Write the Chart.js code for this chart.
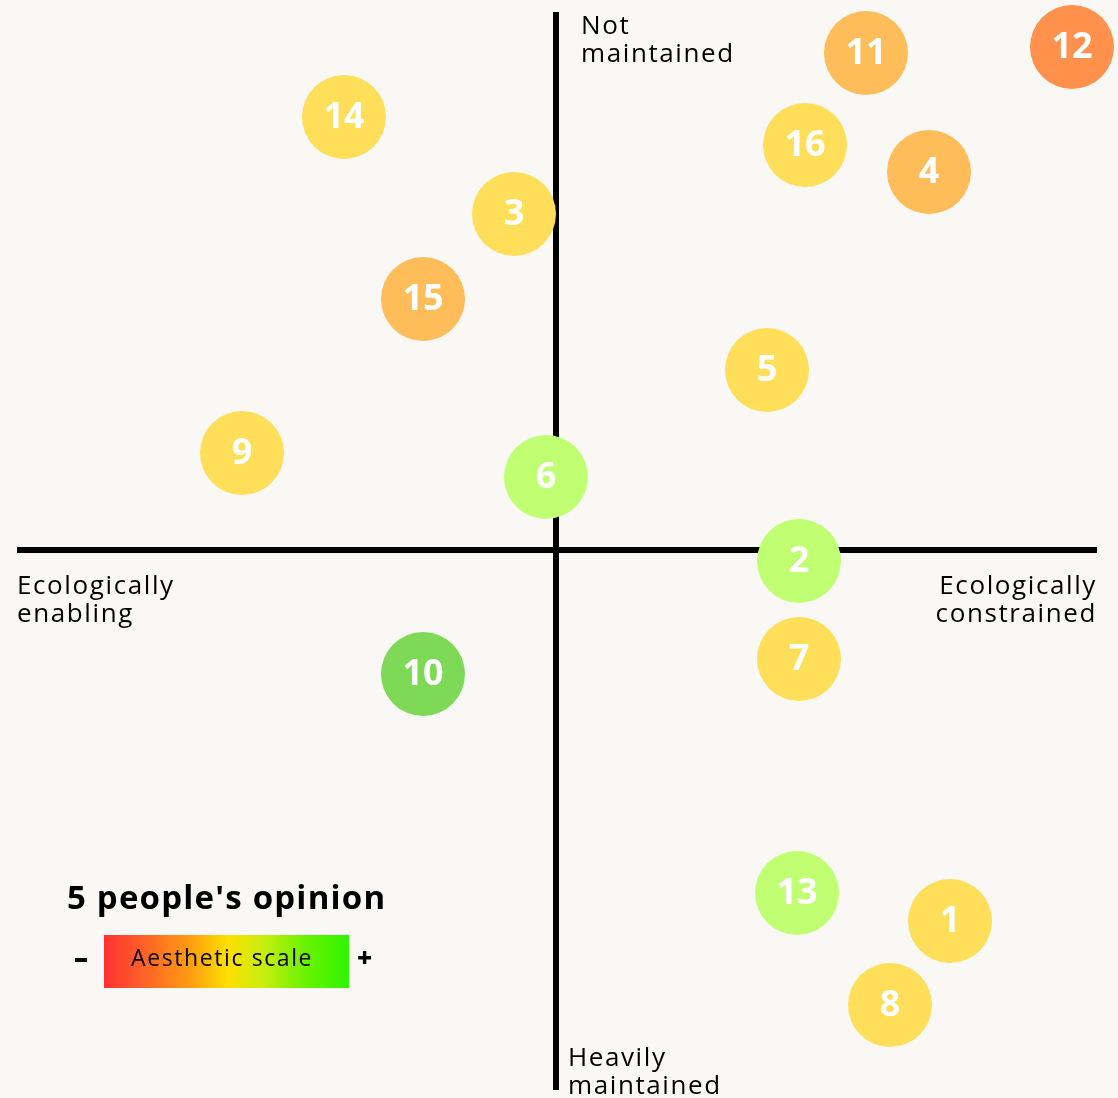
<!DOCTYPE html>
<html>
<head>
<meta charset="utf-8">
<script src="https://cdn.jsdelivr.net/npm/chart.js@4/dist/chart.umd.min.js"></script>
<style>
  html, body { margin: 0; padding: 0; background: #f9f8f4; }
  #wrap { position: relative; width: 1118px; height: 1098px; overflow: hidden; font-family: "Open Sans", sans-serif; }
  canvas { position: absolute; left: 0; top: 0; }
  .lbl { position: absolute; font-size: 26px; line-height: 28px; letter-spacing: 1.6px; color: #000; white-space: nowrap; }
  #title { position: absolute; left: 67px; top: 874px; font-size: 33px; letter-spacing: 1.2px; font-weight: 700; color: #000; white-space: nowrap; }
  #scale { position: absolute; left: 104px; top: 935px; width: 245px; height: 53px;
    background: linear-gradient(to right, #ff3131 0%, #ff5e2a 15%, #ff9c10 35%, #ffde00 50%, #c8ee10 65%, #6af200 82%, #2ef500 100%);
    font-size: 23px; letter-spacing: 1.6px; line-height: 45px; text-indent: 27px; color: #000; white-space: nowrap; }
  .sign { position: absolute; font-size: 26px; font-weight: 800; color: #000; }
  #minus { position: absolute; left: 75px; top: 958px; width: 12px; height: 4px; background: #000; }
</style>
</head>
<body>
<div id="wrap">
  <canvas id="c" width="1118" height="1098"></canvas>
  <div class="lbl" style="left:581px; top:10px;">Not<br>maintained</div>
  <div class="lbl" style="left:568px; top:1042px;">Heavily<br>maintained</div>
  <div class="lbl" style="left:17px; top:570px;">Ecologically<br>enabling</div>
  <div class="lbl" style="right:21px; top:570px; text-align:right;">Ecologically<br>constrained</div>
  <div id="title">5 people's opinion</div>
  <div id="minus" aria-label="-"></div>
  <div id="scale">Aesthetic scale</div>
  <div class="sign" style="left:357px; top:939px;">+</div>
</div>
<script>
// Bubble ids
const ids = ['1','2','3','4','5','6','7','8','9','10','11','12','13','14','15','16'];
// x: ecologically enabling (-) to constrained (+)
const xValues = [7.88, 4.86, -0.84, 7.46, 4.22, -0.20, 4.86, 6.68, -6.28, -2.66, 6.20, 10.32, 4.82, -4.24, -2.66, 4.98];
// y: heavily maintained (-) to not maintained (+)
const yValues = [-7.42, -0.22, 6.72, 7.56, 3.60, 1.46, -2.18, -9.10, 1.94, -2.48, 9.94, 10.06, -6.86, 8.66, 5.02, 8.10];
// aesthetic rating category (0 = least, 4 = most)
const aesthetic = [2, 3, 2, 1, 2, 3, 2, 2, 2, 4, 1, 0, 3, 2, 1, 2];
const aestheticColors = ['#ff914d', '#ffbd59', '#ffde59', '#c1ff72', '#7ed957'];
// axis extents
const xAxisExtent = [-10.78, 10.82];
const yAxisExtent = [-10.80, 10.76];

const bubbleData = ids.map((id, i) => ({ x: xValues[i], y: yValues[i], r: 42 }));
const bubbleColors = aesthetic.map(a => aestheticColors[a]);

const labelPlugin = {
  id: 'bubbleLabels',
  afterDatasetsDraw(chart) {
    const ctx = chart.ctx;
    const meta = chart.getDatasetMeta(0);
    ctx.save();
    ctx.fillStyle = '#ffffff';
    ctx.font = '700 36px "Open Sans", sans-serif';
    ctx.textAlign = 'center';
    ctx.textBaseline = 'middle';
    meta.data.forEach((el, i) => {
      ctx.fillText(ids[i], el.x, el.y + 1);
    });
    ctx.restore();
  }
};

new Chart(document.getElementById('c'), {
  type: 'bubble',
  data: {
    datasets: [
      {
        type: 'bubble',
        data: bubbleData,
        backgroundColor: bubbleColors,
        borderWidth: 0,
        hoverRadius: 0,
        clip: false,
        order: 0
      },
      {
        type: 'line',
        data: [{ x: xAxisExtent[0], y: 0 }, { x: xAxisExtent[1], y: 0 }],
        borderColor: '#000',
        borderWidth: 6,
        pointRadius: 0,
        order: 1
      },
      {
        type: 'line',
        data: [{ x: 0, y: yAxisExtent[0] }, { x: 0, y: yAxisExtent[1] }],
        borderColor: '#000',
        borderWidth: 6,
        pointRadius: 0,
        order: 2
      }
    ]
  },
  options: {
    responsive: false,
    animation: false,
    layout: { padding: 0, autoPadding: false },
    plugins: { legend: { display: false }, tooltip: { enabled: false } },
    scales: {
      x: { type: 'linear', min: -11.12, max: 11.24, display: false },
      y: { type: 'linear', min: -10.96, max: 11.0, display: false }
    }
  },
  plugins: [labelPlugin]
});
</script>
</body>
</html>
